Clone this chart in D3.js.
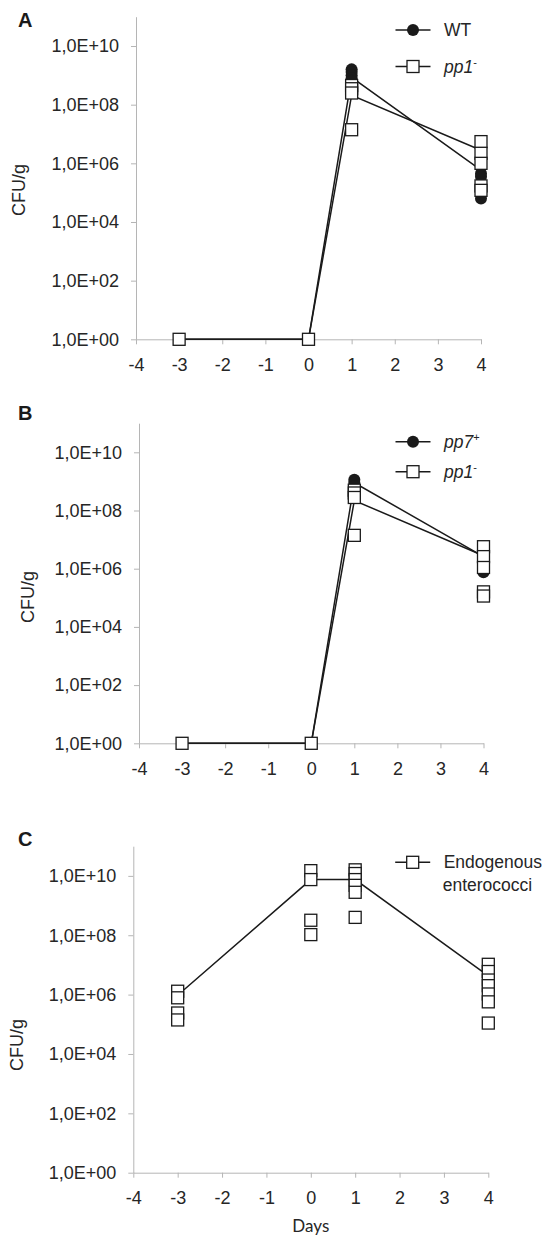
<!DOCTYPE html>
<html>
<head>
<meta charset="utf-8">
<script src="https://cdn.jsdelivr.net/npm/d3@7.9.0/dist/d3.min.js"></script>
<style>
  body { margin: 0; background: #fff; }
  svg { display: block; font-family: "Liberation Sans", Arial, sans-serif; }
</style>
</head>
<body>
<svg id="chart" width="545" height="1237"></svg>
<script>
// shared axes
const dayTicks = [-4, -3, -2, -1, 0, 1, 2, 3, 4];
const cfuTicks = [1, 1e2, 1e4, 1e6, 1e8, 1e10];
const days = [-3, 0, 1, 4];

// panel A: WT vs pp1-
const aWtMean = [1, 1, 8.5e8, 5.9e5];
const aPp1Mean = [1, 1, 2.1e8, 2.8e6];
const aWtPoints = [[-3, 1], [0, 1], [1, 1.6e9], [1, 1.3e9], [1, 1.0e9], [1, 8e8], [1, 6.5e8],
                   [4, 4.5e5], [4, 3.5e5], [4, 1.0e5], [4, 6.3e4]];
const aPp1Points = [[-3, 1], [0, 1], [1, 4.5e8], [1, 3.5e8], [1, 2.5e8], [1, 1.4e7],
                    [4, 5.5e6], [4, 2.2e6], [4, 1.0e6], [4, 1.7e5], [4, 1.2e5]];

// panel B: pp7+ vs pp1-
const bPp7Mean = [1, 1, 9e8, 2.6e6];
const bPp1Mean = [1, 1, 2.2e8, 2.8e6];
const bPp7Points = [[-3, 1], [0, 1], [1, 1.15e9], [1, 9e8], [1, 7e8],
                    [4, 3e6], [4, 1.5e6], [4, 7.5e5]];
const bPp1Points = [[-3, 1], [0, 1], [1, 5e8], [1, 4e8], [1, 2.8e8], [1, 1.4e7],
                    [4, 5.7e6], [4, 2.6e6], [4, 1.1e6], [4, 1.6e5], [4, 1.15e5]];

// panel C: endogenous enterococci
const cEntMean = [9.5e5, 7.5e9, 7.5e9, 4.3e6];
const cEntPoints = [[-3, 1.3e6], [-3, 7.8e5], [-3, 2.4e5], [-3, 1.4e5],
                    [0, 1.5e10], [0, 7.5e9], [0, 3.2e8], [0, 1.05e8],
                    [1, 1.6e10], [1, 1.2e10], [1, 7.5e9], [1, 4.8e9], [1, 2.8e9], [1, 4e8],
                    [4, 1.05e7], [4, 6e6], [4, 3.1e6], [4, 2e6], [4, 1.05e6], [4, 5.7e5], [4, 1.1e5]];

const svg = d3.select('#chart');
const axisGrey = '#b5b5b5';
const ink = '#1a1a1a';

const panels = [
  {
    letter: 'A', left: 136, right: 481, top: 16.7, bottom: 339.3,
    letterY: 27, titleX: 25, titleY: 190,
    series: [
      { mean: aWtMean, points: aWtPoints, marker: 'circle' },
      { mean: aPp1Mean, points: aPp1Points, marker: 'square' }
    ],
    legend: [
      { marker: 'circle', text: 'WT', y: 30 },
      { marker: 'square', text: 'pp1', sup: '-', italic: true, y: 66.5 }
    ],
    legendX: 413
  },
  {
    letter: 'B', left: 139, right: 483.5, top: 423.2, bottom: 743.3,
    letterY: 420, titleX: 34, titleY: 597,
    series: [
      { mean: bPp7Mean, points: bPp7Points, marker: 'circle' },
      { mean: bPp1Mean, points: bPp1Points, marker: 'square' }
    ],
    legend: [
      { marker: 'circle', text: 'pp7', sup: '+', italic: true, y: 441.7 },
      { marker: 'square', text: 'pp1', sup: '-', italic: true, y: 471.7 }
    ],
    legendX: 413
  },
  {
    letter: 'C', left: 133.3, right: 488.3, top: 846.2, bottom: 1172.7,
    letterY: 845.5, titleX: 22.6, titleY: 1045,
    series: [
      { mean: cEntMean, points: cEntPoints, marker: 'square' }
    ],
    legend: [
      { marker: 'square', text: 'Endogenous', text2: 'enterococci', y: 862.3 }
    ],
    legendX: 412.7,
    xTitle: 'Days'
  }
];

function drawMarker(g, type, cx, cy) {
  if (type === 'circle') {
    g.append('circle').attr('cx', cx).attr('cy', cy).attr('r', 6).attr('fill', ink);
  } else {
    g.append('rect').attr('x', cx - 6).attr('y', cy - 6).attr('width', 12).attr('height', 12)
      .attr('fill', '#fff').attr('stroke', ink).attr('stroke-width', 1.3);
  }
}

function expLabel(v) {
  const e = Math.round(Math.log10(v));
  return '1,0E+' + String(e).padStart(2, '0');
}

panels.forEach(p => {
  const x = d3.scaleLinear().domain([-4, 4]).range([p.left, p.right]);
  const y = d3.scaleLog().domain([1, 1e11]).range([p.bottom, p.top]);
  const g = svg.append('g');

  // axes
  const yAxis = g.append('g').attr('transform', `translate(${p.left},0)`)
    .call(d3.axisLeft(y).tickValues(cfuTicks).tickFormat(expLabel).tickSize(5).tickSizeOuter(0).tickPadding(12));
  const xAxis = g.append('g').attr('transform', `translate(0,${p.bottom})`)
    .call(d3.axisBottom(x).tickValues(dayTicks).tickFormat(d => String(d)).tickSize(5).tickSizeOuter(0).tickPadding(13.5));
  [yAxis, xAxis].forEach(a => {
    a.select('.domain').attr('stroke', axisGrey);
    a.selectAll('.tick line').attr('stroke', axisGrey);
    a.selectAll('.tick text').attr('fill', '#262626').style('font-size', '18px');
  });

  // panel letter and y title
  g.append('text').attr('x', 18).attr('y', p.letterY).text(p.letter)
    .style('font-size', '20px').style('font-weight', 'bold').attr('fill', ink);
  g.append('text').attr('transform', `translate(${p.titleX},${p.titleY}) rotate(-90)`)
    .attr('text-anchor', 'middle').style('font-size', '18px').attr('fill', '#262626').text('CFU/g');
  if (p.xTitle) {
    g.append('text').attr('x', x(0)).attr('y', 1231.5).attr('text-anchor', 'middle')
      .style('font-family', 'Lato, "Open Sans", sans-serif').style('font-size', '17px')
      .attr('fill', '#262626').text(p.xTitle);
  }

  // mean lines
  const line = d3.line().x((d, i) => x(days[i])).y(d => y(d));
  p.series.forEach(s => {
    g.append('path').attr('d', line(s.mean)).attr('fill', 'none')
      .attr('stroke', ink).attr('stroke-width', 1.5);
  });

  // individual animals
  p.series.forEach(s => {
    s.points.forEach(([d, v]) => drawMarker(g, s.marker, x(d), y(v)));
  });

  // legend
  p.legend.forEach(l => {
    g.append('line').attr('x1', p.legendX - 17.5).attr('x2', p.legendX + 17.5)
      .attr('y1', l.y).attr('y2', l.y).attr('stroke', ink).attr('stroke-width', 1.5);
    drawMarker(g, l.marker, p.legendX, l.y);
    const t = g.append('text').attr('x', p.legendX + 31).attr('y', l.y + 6)
      .style('font-size', '17.5px').attr('fill', '#262626');
    t.append('tspan').style('font-style', l.italic ? 'italic' : 'normal').text(l.text);
    if (l.sup) {
      t.append('tspan').attr('dy', -7).style('font-size', '11px').text(l.sup);
    }
    if (l.text2) {
      g.append('text').attr('x', p.legendX + 30).attr('y', l.y + 29)
        .style('font-size', '17.5px').attr('fill', '#262626').text(l.text2);
    }
  });
});
</script>
</body>
</html>
